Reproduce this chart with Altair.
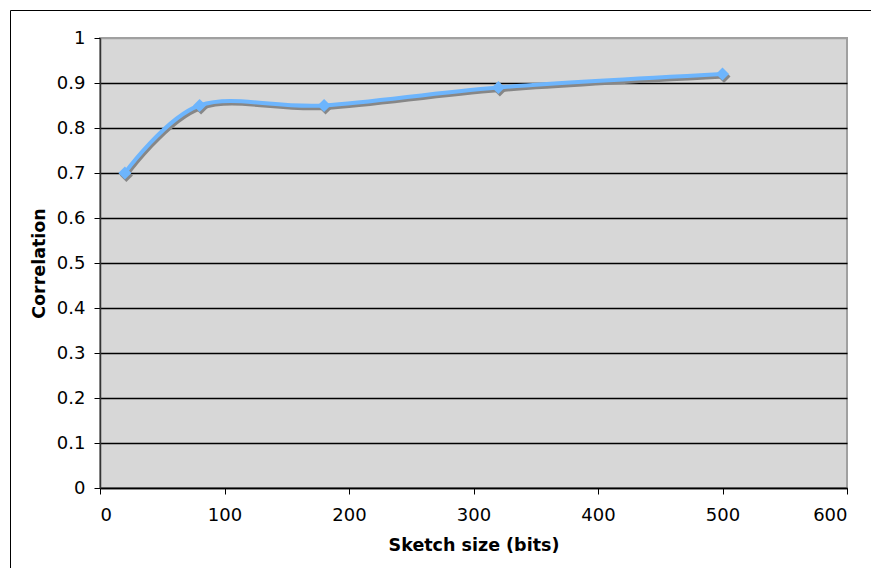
import altair as alt
import pandas as pd

# Correlation measured at each sketch size
sketch_bits = [20, 80, 180, 320, 500]
correlation = [0.70, 0.85, 0.85, 0.89, 0.92]

df = pd.DataFrame({"bits": sketch_bits, "corr": correlation})

FONT = "DejaVu Sans"
BLUE = "#6db5fd"
SHADOW = "#878787"

x_enc = alt.X(
    "bits:Q",
    title="Sketch size (bits)",
    scale=alt.Scale(domain=[0, 600], nice=False, zero=True),
    axis=alt.Axis(
        values=[0, 100, 200, 300, 400, 500, 600],
        grid=False,
        tickSize=6,
        tickColor="#000000",
        domainColor="#000000",
        domainWidth=1.5,
        labelPadding=12,
        titlePadding=12,
        labelFontSize=18,
        titleFontSize=17.5,
        labelFont=FONT,
        titleFont=FONT,
        labelColor="#000000",
        titleColor="#000000",
        titleFontWeight="bold",
    ),
)

y_enc = alt.Y(
    "corr:Q",
    title="Correlation",
    scale=alt.Scale(domain=[0, 1], nice=False),
    axis=alt.Axis(
        values=[0, 0.1, 0.2, 0.3, 0.4, 0.5, 0.6, 0.7, 0.8, 0.9, 1],
        format="~g",
        grid=True,
        gridColor={"condition": {"test": "datum.value >= 1", "value": "#a0a0a0"},
                   "value": "#000000"},
        gridWidth=1.5,
        tickSize=6,
        tickColor="#000000",
        domainColor="#333333",
        domainWidth=1.5,
        labelPadding=9,
        titlePadding=8,
        labelFontSize=18,
        titleFontSize=17.5,
        labelFont=FONT,
        titleFont=FONT,
        labelColor="#000000",
        titleColor="#000000",
        titleFontWeight="bold",
    ),
)

base = alt.Chart(df)

shadow_line = base.mark_line(
    color=SHADOW, strokeWidth=4, interpolate="cardinal", tension=0,
    xOffset=1.5, yOffset=2.5,
).encode(x=x_enc, y=y_enc)

shadow_pts = base.mark_point(
    shape="diamond", filled=True, color=SHADOW, size=170, opacity=1,
    xOffset=1.5, yOffset=2.5,
).encode(x=x_enc, y=y_enc)

line = base.mark_line(
    color=BLUE, strokeWidth=4, interpolate="cardinal", tension=0,
).encode(x=x_enc, y=y_enc)

pts = base.mark_point(
    shape="diamond", filled=True, color=BLUE, size=170, opacity=1,
).encode(x=x_enc, y=y_enc)

# outer frame around the whole figure
frame = alt.Chart(alt.Data(values=[{}])).mark_rect(
    fill=None, stroke="#000000", strokeWidth=1
).encode(
    x=alt.value(-89.5), x2=alt.value(900),
    y=alt.value(-27.5), y2=alt.value(600),
)

chart = alt.layer(frame, shadow_line, shadow_pts, line, pts).properties(
    width=747,
    height=450,
    padding={"left": 100, "top": 38, "right": 24, "bottom": 80},
    autosize=alt.AutoSizeParams(type="none"),
    background="#ffffff",
).configure_view(
    fill="#d7d7d7",
    stroke="#a0a0a0",
    strokeWidth=2,
)

chart.save("out.html", embed_options={"renderer": "svg", "actions": False})
